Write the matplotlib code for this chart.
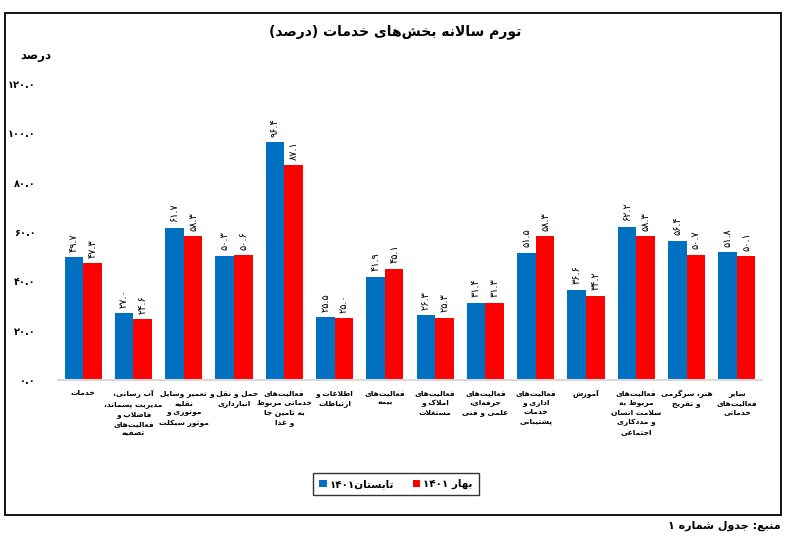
import re
import numpy as np
import matplotlib
matplotlib.use('Agg')
import matplotlib.pyplot as plt
from matplotlib.patches import Rectangle

# categories (logical Persian text, one line per label row)
categories = [
    ['خدمات'],
    ['آب رسانی،', 'مدیریت پسماند،', 'فاضلاب و', 'فعالیت\u200cهای', 'تصفیه'],
    ['تعمیر وسایل', 'نقلیه', 'موتوری و', 'موتور سیکلت'],
    ['حمل و نقل و', 'انبارداری'],
    ['فعالیت\u200cهای', 'خدماتی مربوط', 'به تامین جا', 'و غذا'],
    ['اطلاعات و', 'ارتباطات'],
    ['فعالیت\u200cهای', 'بیمه'],
    ['فعالیت\u200cهای', 'املاک و', 'مستغلات'],
    ['فعالیت\u200cهای', 'حرفه\u200cای،', 'علمی و فنی'],
    ['فعالیت\u200cهای', 'اداری و', 'خدمات', 'پشتیبانی'],
    ['آموزش'],
    ['فعالیت\u200cهای', 'مربوط به', 'سلامت انسان', 'و مددکاری', 'اجتماعی'],
    ['هنر، سرگرمی', 'و تفریح'],
    ['سایر', 'فعالیت\u200cهای', 'خدماتی'],
]
summer = [49.7, 27.0, 61.7, 50.3, 96.4, 25.5, 41.9, 26.3, 31.4, 51.5, 36.6, 62.2, 56.4, 51.8]
spring = [47.3, 24.6, 58.3, 50.6, 87.1, 25.0, 45.1, 25.3, 31.3, 58.3, 34.2, 58.3, 50.7, 50.1]
yticks = [0, 20, 40, 60, 80, 100, 120]

# --- minimal Persian shaping (matplotlib 3.10 has no complex text layout) ---
forms = {'ا': (0xFE8D, 2), 'آ': (0xFE81, 2), 'ب': (0xFE8F, 4), 'پ': (0xFB56, 4),
         'ت': (0xFE95, 4), 'ث': (0xFE99, 4), 'ج': (0xFE9D, 4), 'چ': (0xFB7A, 4),
         'ح': (0xFEA1, 4), 'خ': (0xFEA5, 4), 'د': (0xFEA9, 2), 'ذ': (0xFEAB, 2),
         'ر': (0xFEAD, 2), 'ز': (0xFEAF, 2), 'ژ': (0xFB8A, 2), 'س': (0xFEB1, 4),
         'ش': (0xFEB5, 4), 'ص': (0xFEB9, 4), 'ض': (0xFEBD, 4), 'ط': (0xFEC1, 4),
         'ظ': (0xFEC5, 4), 'ع': (0xFEC9, 4), 'غ': (0xFECD, 4), 'ف': (0xFED1, 4),
         'ق': (0xFED5, 4), 'ک': (0xFB8E, 4), 'گ': (0xFB92, 4), 'ل': (0xFEDD, 4),
         'م': (0xFEE1, 4), 'ن': (0xFEE5, 4), 'و': (0xFEED, 2), 'ه': (0xFEE9, 4),
         'ی': (0xFBFC, 4)}
lamalef = {'ا': 0xFEFB, 'آ': 0xFEF5}


def shape(s):
    out = []
    i = 0
    n = len(s)
    while i < n:
        c = s[i]
        if c not in forms:
            if c != '\u200c':
                out.append(c)
            i += 1
            continue
        prev = s[i - 1] if i > 0 else ''
        joins_prev = prev in forms and forms[prev][1] == 4
        if c == 'ل' and i + 1 < n and s[i + 1] in lamalef:
            out.append(chr(lamalef[s[i + 1]] + (1 if joins_prev else 0)))
            i += 2
            continue
        base, cnt = forms[c]
        nxt = s[i + 1] if i + 1 < n else ''
        joins_next = cnt == 4 and nxt in forms
        if joins_prev and joins_next:
            k = 3
        elif joins_next:
            k = 2
        elif joins_prev:
            k = 1
        else:
            k = 0
        out.append(chr(base + k))
        i += 1
    return ''.join(out)


def fa(s):
    v = shape(s)[::-1]
    v = v.translate(str.maketrans('()', ')('))
    return re.sub(r'[۰-۹0-9.]+', lambda m: m.group(0)[::-1], v)


def fa_num(x):
    return f'{x:.1f}'.translate(str.maketrans('0123456789', '۰۱۲۳۴۵۶۷۸۹'))


plt.rcParams['font.family'] = ['DejaVu Sans']

fig = plt.figure(figsize=(8, 5.46), dpi=100)
ax = fig.add_axes([58 / 800, 1 - 380 / 546, 704 / 800, 296 / 546])

x = np.arange(len(summer))
w = 0.37
b1 = ax.bar(x - w / 2, summer, w, color='#0070C0', label=fa('تابستان۱۴۰۱'))
b2 = ax.bar(x + w / 2, spring, w, color='#FF0000', label=fa('بهار ۱۴۰۱'))

for bars, vals in [(b1, summer), (b2, spring)]:
    for r, v in zip(bars, vals):
        ax.annotate(fa_num(v), (r.get_x() + r.get_width() / 2, v),
                    xytext=(0, 4), textcoords='offset points',
                    ha='center', va='bottom', rotation=90, fontsize=7)

ax.set_xlim(-0.5, len(summer) - 0.5)
ax.set_ylim(0, 120)
ax.set_yticks(yticks)
ax.set_yticklabels([fa_num(t) for t in yticks], fontsize=7, fontweight='bold')
ax.set_xticks(x)
ax.set_xticklabels(['\n'.join(fa(l) for l in lines) for lines in categories],
                   fontsize=5.4, fontweight='bold', linespacing=1.65, va='top')
ax.tick_params(axis='y', length=0, pad=16)
ax.tick_params(axis='x', length=0, pad=7)
for s in ['top', 'right', 'left']:
    ax.spines[s].set_visible(False)
ax.spines['bottom'].set_color('#D9D9D9')
ax.spines['bottom'].set_linewidth(1.5)

fig.text(395 / 800, 1 - 32 / 546, fa('تورم سالانه بخش\u200cهای خدمات (درصد)'),
         ha='center', va='center', fontsize=10, fontweight='bold')
fig.text(36 / 800, 1 - 55 / 546, fa('درصد'), ha='center', va='center',
         fontsize=8.5, fontweight='bold')

leg = fig.legend(loc='center', bbox_to_anchor=(396 / 800, 1 - 484 / 546), ncol=2,
                 prop={'size': 7.5, 'weight': 'bold'}, frameon=True, fancybox=False,
                 handlelength=0.7, handleheight=0.7, handletextpad=0.3,
                 columnspacing=1.8, borderpad=0.6)
leg.get_frame().set_edgecolor('black')
leg.get_frame().set_linewidth(1.0)

fig.patches.append(Rectangle((5 / 800, 1 - 515 / 546), 776 / 800, 502 / 546,
                             transform=fig.transFigure, fill=False,
                             edgecolor='black', linewidth=1.3))
fig.text(781 / 800, 1 - 526 / 546, fa('منبع: جدول شماره ۱'), ha='right', va='center',
         fontsize=8, fontweight='bold')

fig.savefig('out.png', dpi=100)
